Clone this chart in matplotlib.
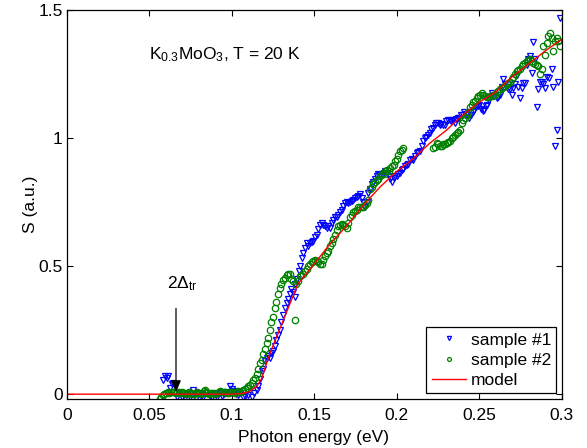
import matplotlib
matplotlib.use("Agg")
import matplotlib.pyplot as plt

plt.rcParams['font.family'] = ['Liberation Sans', 'DejaVu Sans']
plt.rcParams['mathtext.fontset'] = 'custom'
plt.rcParams['mathtext.rm'] = 'Liberation Sans'
plt.rcParams['mathtext.it'] = 'Liberation Sans:italic'
plt.rcParams['mathtext.bf'] = 'Liberation Sans:bold'

# ---------------- data ----------------
s1_x = [0.0584, 0.0594, 0.0604, 0.0614, 0.0625, 0.0635, 0.0645, 0.0665, 0.068, 0.0695,
        0.0716, 0.073, 0.0745, 0.0766, 0.078, 0.0795, 0.081, 0.0827, 0.0845, 0.0867,
        0.088, 0.0895, 0.091, 0.0925, 0.094, 0.0955, 0.097, 0.0988, 0.0999, 0.101,
        0.1025, 0.104, 0.1049, 0.107, 0.108, 0.11, 0.112, 0.1135, 0.115, 0.116,
        0.117, 0.118, 0.119, 0.12, 0.121, 0.122, 0.123, 0.124, 0.125, 0.126,
        0.127, 0.128, 0.129, 0.13, 0.131, 0.132, 0.1332, 0.134, 0.135, 0.136,
        0.137, 0.138, 0.1385, 0.1395, 0.1405, 0.1415, 0.1423, 0.1433, 0.1443, 0.1454,
        0.1464, 0.1474, 0.1484, 0.1494, 0.1504, 0.1514, 0.1524, 0.1534, 0.1544, 0.1555,
        0.1565, 0.1575, 0.1585, 0.1595, 0.1605, 0.1615, 0.1625, 0.1636, 0.1646, 0.1656,
        0.1666, 0.1676, 0.1686, 0.1696, 0.1706, 0.1716, 0.1727, 0.1737, 0.1747, 0.1757,
        0.1767, 0.1777, 0.1787, 0.1797, 0.1807, 0.1817, 0.1827, 0.1838, 0.1848, 0.1858,
        0.1868, 0.1878, 0.1888, 0.19, 0.191, 0.192, 0.193, 0.194, 0.195, 0.196,
        0.197, 0.198, 0.199, 0.2, 0.201, 0.202, 0.203, 0.204, 0.205, 0.206,
        0.207, 0.208, 0.209, 0.21, 0.211, 0.212, 0.213, 0.214, 0.215, 0.216,
        0.217, 0.218, 0.219, 0.22, 0.221, 0.222, 0.223, 0.224, 0.225, 0.226,
        0.227, 0.228, 0.229, 0.23, 0.231, 0.232, 0.233, 0.234, 0.235, 0.236,
        0.237, 0.238, 0.239, 0.24, 0.241, 0.242, 0.243, 0.244, 0.245, 0.246,
        0.247, 0.248, 0.249, 0.25, 0.251, 0.252, 0.253, 0.254, 0.255, 0.256,
        0.2575, 0.259, 0.2606, 0.2616, 0.2626, 0.2636, 0.2646, 0.2656, 0.2666, 0.2676,
        0.2686, 0.2696, 0.2706, 0.2716, 0.2727, 0.2737, 0.2747, 0.2757, 0.2767, 0.2777,
        0.2787, 0.2797, 0.2808, 0.2818, 0.2828, 0.2838, 0.2848, 0.2858, 0.2868, 0.2878,
        0.2888, 0.2898, 0.291, 0.292, 0.2939, 0.295, 0.296, 0.297, 0.298, 0.299]
s1_y = [0.055, 0.07, 0.062, 0.072, 0.025, 0.04, 0.045, -0.01, 0.005, -0.012,
        -0.016, 0.0, -0.01, 0.016, -0.015, 0.002, -0.008, -0.01, 0.004, -0.007,
        -0.012, 0.0, -0.01, 0.005, -0.008, 0.0, 0.01, 0.03, 0.02, 0.012,
        0.0, -0.005, 0.003, -0.01, -0.006, -0.003, -0.01, 0.005, 0.016, 0.03,
        0.06, 0.09, 0.1, 0.13, 0.14, 0.15, 0.14, 0.16, 0.17, 0.19,
        0.21, 0.23, 0.25, 0.28, 0.31, 0.335, 0.355, 0.37, 0.39, 0.41,
        0.40, 0.43, 0.38, 0.45, 0.48, 0.50, 0.53, 0.55, 0.57, 0.59,
        0.58, 0.59, 0.595, 0.60, 0.615, 0.62, 0.645, 0.66, 0.67, 0.66,
        0.655, 0.65, 0.655, 0.65, 0.67, 0.68, 0.69, 0.69, 0.70, 0.71,
        0.72, 0.735, 0.745, 0.75, 0.745, 0.75, 0.755, 0.76, 0.765, 0.77,
        0.775, 0.78, 0.765, 0.75, 0.73, 0.75, 0.785, 0.80, 0.82, 0.83,
        0.84, 0.85, 0.86, 0.856, 0.86, 0.865, 0.87, 0.865, 0.85, 0.84,
        0.83, 0.845, 0.85, 0.85, 0.86, 0.865, 0.875, 0.88, 0.89, 0.895,
        0.90, 0.915, 0.92, 0.915, 0.93, 0.94, 0.945, 0.95, 0.97, 0.99,
        1.0, 1.005, 1.01, 1.02, 1.035, 1.04, 1.05, 1.06, 1.06, 1.05,
        1.055, 1.05, 1.05, 1.065, 1.07, 1.07, 1.065, 1.07, 1.06, 1.075,
        1.08, 1.08, 1.09, 1.09, 1.10, 1.095, 1.09, 1.08, 1.09, 1.10,
        1.11, 1.12, 1.125, 1.13, 1.115, 1.105, 1.11, 1.125, 1.13, 1.15,
        1.175, 1.165, 1.155, 1.16, 1.17, 1.20, 1.23, 1.21, 1.20, 1.19,
        1.19, 1.17, 1.195, 1.21, 1.245, 1.20, 1.155, 1.195, 1.215, 1.215,
        1.285, 1.31, 1.32, 1.255, 1.375, 1.31, 1.12, 1.19, 1.22, 1.22,
        1.21, 1.195, 1.24, 1.235, 1.27, 1.20, 0.97, 1.03, 1.22, 1.47]

s2_x = [0.0564, 0.057, 0.058, 0.059, 0.060, 0.061, 0.062, 0.063, 0.064, 0.065,
        0.066, 0.067, 0.068, 0.069, 0.070, 0.071, 0.072, 0.073, 0.074, 0.075,
        0.076, 0.077, 0.078, 0.079, 0.080, 0.081, 0.082, 0.083, 0.0837, 0.0845,
        0.085, 0.086, 0.087, 0.088, 0.089, 0.090, 0.091, 0.092, 0.093, 0.094,
        0.095, 0.096, 0.097, 0.098, 0.099, 0.100, 0.101, 0.102, 0.103, 0.104,
        0.105, 0.106, 0.107, 0.108, 0.109, 0.110, 0.111, 0.112, 0.113, 0.114,
        0.115, 0.116, 0.117, 0.118, 0.119, 0.120, 0.121, 0.122, 0.123, 0.124,
        0.125, 0.126, 0.127, 0.128, 0.129, 0.130, 0.1312, 0.1322, 0.1332, 0.1342,
        0.1352, 0.136, 0.137, 0.138, 0.139, 0.140, 0.141, 0.142, 0.1433, 0.1445,
        0.1455, 0.1464, 0.1475, 0.1485, 0.1494, 0.1505, 0.1515, 0.1524, 0.1534, 0.1544,
        0.1555, 0.1565, 0.1575, 0.1585, 0.1595, 0.1605, 0.1615, 0.1625, 0.1636, 0.1646,
        0.1656, 0.1666, 0.1676, 0.1686, 0.1696, 0.1706, 0.1716, 0.1727, 0.1737, 0.1747,
        0.1757, 0.1767, 0.1777, 0.1787, 0.1797, 0.1807, 0.1817, 0.1827, 0.1838, 0.1848,
        0.1858, 0.1868, 0.1878, 0.1888, 0.190, 0.191, 0.192, 0.1928, 0.194, 0.195,
        0.196, 0.197, 0.198, 0.199, 0.200, 0.201, 0.202, 0.203, 0.204,
        0.2222, 0.2232, 0.2242, 0.2252, 0.2262, 0.2272, 0.2282, 0.2292, 0.2303, 0.2313,
        0.2323, 0.2333, 0.2343, 0.2353, 0.2363, 0.2373, 0.2384, 0.2394, 0.2404, 0.2414,
        0.2424, 0.2434, 0.2444, 0.2454, 0.2464, 0.2474, 0.2484, 0.2494, 0.2505, 0.2515,
        0.2525, 0.2535, 0.2545, 0.2555, 0.2565, 0.2575, 0.2585, 0.2595, 0.2606, 0.2616,
        0.2626, 0.2636, 0.2646, 0.2656, 0.2666, 0.2676, 0.2686, 0.2696, 0.2706, 0.2716,
        0.2727, 0.2737, 0.2747, 0.2757, 0.2767, 0.2777, 0.2787, 0.2797, 0.2808, 0.2818,
        0.2828, 0.2838, 0.2848, 0.2858, 0.2868, 0.2878, 0.2888, 0.2898, 0.2908, 0.2918,
        0.2929, 0.2939, 0.2949, 0.2959, 0.297, 0.298, 0.299]
s2_y = [-0.02, -0.012, -0.005, 0.0, 0.005, 0.008, 0.005, 0.01, 0.008, 0.01,
        0.005, 0.008, 0.01, 0.005, 0.008, 0.004, 0.0, 0.005, 0.01, 0.006,
        0.002, 0.0, 0.004, 0.008, 0.005, 0.002, 0.006, 0.012, 0.018, 0.01,
        0.004, 0.0, 0.003, 0.006, 0.004, 0.002, 0.006, 0.01, 0.013, 0.01,
        0.008, 0.01, 0.006, 0.004, 0.007, 0.01, 0.008, 0.006, 0.01, 0.012,
        0.01, 0.014, 0.018, 0.02, 0.025, 0.03, 0.035, 0.045, 0.055, 0.065,
        0.08, 0.10, 0.12, 0.135, 0.155, 0.175, 0.20, 0.22, 0.25, 0.28,
        0.30, 0.335, 0.36, 0.39, 0.415, 0.43, 0.446, 0.455, 0.466, 0.47,
        0.47, 0.45, 0.44, 0.29, 0.43, 0.44, 0.46, 0.465, 0.47, 0.48,
        0.49, 0.50, 0.51, 0.515, 0.52, 0.525, 0.52, 0.515, 0.51, 0.51,
        0.525, 0.54, 0.55, 0.56, 0.58, 0.59, 0.605, 0.62, 0.64, 0.655,
        0.66, 0.665, 0.66, 0.655, 0.65, 0.67, 0.69, 0.70, 0.71, 0.715,
        0.72, 0.73, 0.73, 0.73, 0.73, 0.74, 0.745, 0.76, 0.80, 0.81,
        0.82, 0.83, 0.835, 0.84, 0.85, 0.86, 0.86, 0.87, 0.875, 0.87,
        0.885, 0.89, 0.895, 0.91, 0.92, 0.935, 0.95, 0.955, 0.96,
        0.96, 0.965, 0.98, 0.975, 0.97, 0.97, 0.975, 0.975, 0.98, 0.985,
        0.99, 1.0, 1.005, 1.01, 1.02, 1.025, 1.03, 1.06, 1.07, 1.08,
        1.09, 1.10, 1.12, 1.13, 1.14, 1.145, 1.155, 1.165, 1.17, 1.175,
        1.17, 1.165, 1.16, 1.16, 1.165, 1.165, 1.17, 1.17, 1.18, 1.185,
        1.19, 1.195, 1.20, 1.205, 1.21, 1.215, 1.22, 1.23, 1.24, 1.25,
        1.26, 1.265, 1.27, 1.28, 1.29, 1.295, 1.30, 1.305, 1.31, 1.30,
        1.295, 1.29, 1.285, 1.28, 1.25, 1.27, 1.36, 1.325, 1.37, 1.40,
        1.41, 1.39, 1.34, 1.38, 1.39, 1.38, 1.36]

model_x = [0.0, 0.05, 0.1, 0.105, 0.11, 0.115, 0.118, 0.12, 0.122, 0.125,
           0.13, 0.135, 0.14, 0.145, 0.15, 0.16, 0.17, 0.18, 0.19, 0.2,
           0.21, 0.22, 0.23, 0.24, 0.25, 0.26, 0.27, 0.28, 0.29, 0.3]
model_y = [0.0, 0.0, 0.0, 0.002, 0.008, 0.03, 0.06, 0.1, 0.14, 0.19,
           0.27, 0.35, 0.43, 0.47, 0.51, 0.59, 0.66, 0.74, 0.81, 0.87,
           0.92, 0.98, 1.03, 1.09, 1.14, 1.18, 1.24, 1.29, 1.34, 1.386]

x_ticks = [0, 0.05, 0.1, 0.15, 0.2, 0.25, 0.3]
x_ticklabels = ['0', '0.05', '0.1', '0.15', '0.2', '0.25', '0.3']
y_ticks = [0, 0.5, 1, 1.5]
y_ticklabels = ['0', '0.5', '1', '1.5']

# ---------------- figure ----------------
W, H = 587, 448
fig = plt.figure(figsize=(W / 100, H / 100), dpi=100)
L, R, B, T = 67, 561.7, 399.3, 10
ax = fig.add_axes([L / W, (H - B) / H, (R - L) / W, (B - T) / H])

FS = 12.5
ax.plot(s1_x, s1_y, linestyle='none', marker='v', markersize=5,
        markerfacecolor='none', markeredgecolor='#0000ff', markeredgewidth=0.9,
        label='sample #1')
ax.plot(s2_x, s2_y, linestyle='none', marker='o', markersize=4.6,
        markerfacecolor='none', markeredgecolor='#008000', markeredgewidth=0.9,
        label='sample #2')
ax.plot(model_x, model_y, color='#ff0000', linewidth=1.0, label='model')

ax.set_xlim(0, 0.3)
ax.set_ylim(-0.02, 1.5)
ax.set_xticks(x_ticks)
ax.set_xticklabels(x_ticklabels)
ax.set_yticks(y_ticks)
ax.set_yticklabels(y_ticklabels)
ax.tick_params(direction='in', length=4, width=0.8, top=True, right=True,
               labelsize=FS)
ax.tick_params(axis='x', pad=6.5)
ax.tick_params(axis='y', pad=3)
for sp in ax.spines.values():
    sp.set_linewidth(0.9)

ax.set_xlabel('Photon energy (eV)', fontsize=FS)
ax.set_ylabel('S (a.u.)', fontsize=FS)
ax.xaxis.set_label_coords((314 - L) / (R - L), -(437 - B) / (B - T), transform=ax.transAxes)
ax.xaxis.label.set_va('center')
ax.yaxis.set_label_coords(-(L - 31) / (R - L), 0.5, transform=ax.transAxes)
ax.yaxis.label.set_va('center')

ax.text(0.0499, 1.308, r'K$_{0.3}$MoO$_3$, T = 20 K', fontsize=FS,
        ha='left', va='baseline')
ax.text(0.0605, 0.414, r'2Δ$_{\mathrm{tr}}$', fontsize=FS, ha='left', va='baseline')
ax.annotate('', xy=(0.0661, 0.008), xytext=(0.0661, 0.335),
            arrowprops=dict(arrowstyle='-|>,head_length=0.7,head_width=0.3',
                            color='k', lw=0.9, shrinkA=0, shrinkB=0))

leg = ax.legend(loc='lower right', bbox_to_anchor=(0.989, 0.015), borderaxespad=0,
                fontsize=FS, markerscale=0.6, handlelength=2.0, handletextpad=0.25,
                labelspacing=0.3, borderpad=0.3, fancybox=False, framealpha=1,
                edgecolor='k')
leg.get_frame().set_linewidth(0.9)

fig.savefig('out.png', dpi=100)
